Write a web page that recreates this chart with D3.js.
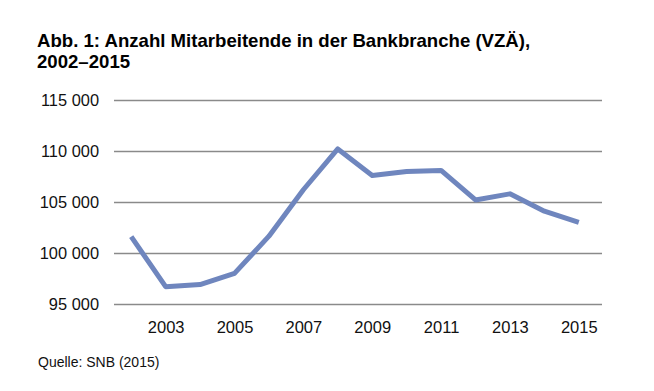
<!DOCTYPE html>
<html>
<head>
<meta charset="utf-8">
<script src="https://cdn.jsdelivr.net/npm/d3@7"></script>
<style>
  body { margin: 0; background: #fff; }
  text { font-family: "Liberation Sans", Arial, sans-serif; }
</style>
</head>
<body>
<script>
var width = 654
var height = 391
var margin = { left: 114, top: 100, right: 52, bottom: 87 }
var innerWidth = width - margin.left - margin.right
var innerHeight = height - margin.top - margin.bottom

// data
var years = [2002, 2003, 2004, 2005, 2006, 2007, 2008, 2009, 2010, 2011, 2012, 2013, 2014, 2015]
var staff = [101600, 96700, 96900, 98000, 101650, 106200, 110200, 107600, 108000, 108100, 105200, 105800, 104100, 103000]
var yTicks = [95000, 100000, 105000, 110000, 115000]
var xTickYears = [2003, 2005, 2007, 2009, 2011, 2013, 2015]
var titleLines = ['Abb. 1: Anzahl Mitarbeitende in der Bankbranche (VZÄ),', '2002–2015']
var source = 'Quelle: SNB (2015)'

var data = years.map((y, i) => ({ year: y, value: staff[i] }))

var svg = d3.select('body').append('svg').attr('width', width).attr('height', height)

svg.append('g').selectAll('text').data(titleLines).enter().append('text')
    .attr('x', 37).attr('y', (d, i) => 47 + i * 21)
    .attr('font-size', 18.6).attr('font-weight', 'bold').attr('fill', '#000')
    .text(d => d)

var g = svg.append('g').attr('transform', `translate(${margin.left},${margin.top})`)

const xScale = d3.scalePoint().domain(years).range([0, innerWidth - 6]).padding(0.5)
const yScale = d3.scaleLinear().domain([95000, 115000]).range([innerHeight, 0])
const fmt = v => d3.format(',')(v).replace(/,/g, ' ')

// gridlines + y labels
const yAxis = d3.axisLeft(yScale).tickValues(yTicks).tickSize(-innerWidth).tickPadding(15).tickFormat(fmt)
const yg = g.append('g').call(yAxis)
    .attr('font-size', 16.4).attr('font-family', '"Liberation Sans", Arial, sans-serif')
yg.select('.domain').remove()
yg.selectAll('.tick line').attr('stroke', '#8a8a8a').attr('stroke-width', 1.3)
yg.selectAll('.tick text').attr('fill', '#111')

// x labels
const xAxis = d3.axisBottom(xScale).tickValues(xTickYears).tickSize(0).tickPadding(17)
const xg = g.append('g').attr('transform', `translate(0,${innerHeight})`).call(xAxis)
    .attr('font-size', 16.5).attr('font-family', '"Liberation Sans", Arial, sans-serif')
xg.select('.domain').remove()
xg.selectAll('.tick text').attr('fill', '#111')

const line = d3.line().x(d => xScale(d.year)).y(d => yScale(d.value))
g.append('path').datum(data).attr('d', line)
    .attr('fill', 'none').attr('stroke', '#6f86be').attr('stroke-width', 5)
    .attr('stroke-linejoin', 'round')

svg.append('text').attr('x', 38).attr('y', 367).attr('font-size', 14).attr('fill', '#111').text(source)
</script>
</body>
</html>
